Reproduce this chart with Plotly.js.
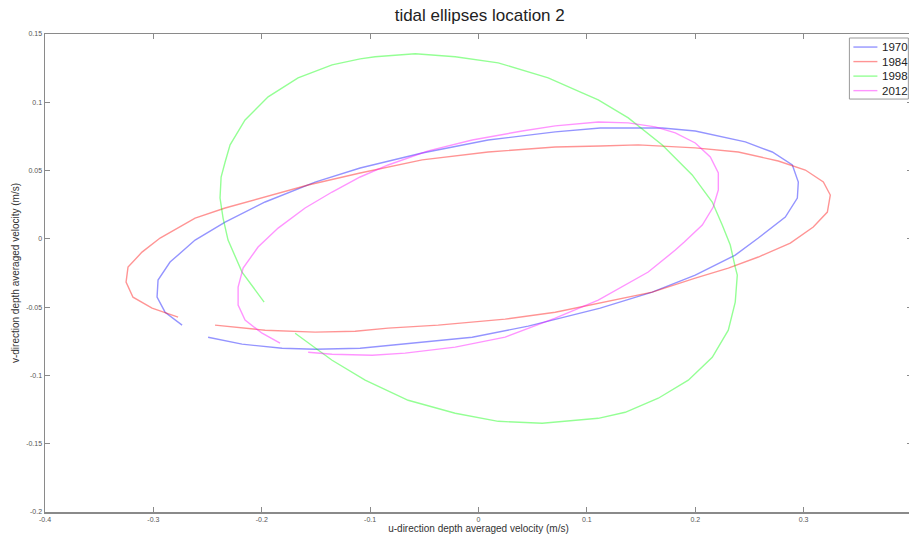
<!DOCTYPE html>
<html>
<head>
<meta charset="utf-8">
<script src="https://cdn.plot.ly/plotly-3.0.1.min.js"></script>
<style>
  html, body { margin: 0; padding: 0; overflow: hidden; background: #fff; }
  #chart { width: 912px; height: 537px; }
</style>
</head>
<body>
<div id="chart"></div>
<script>
// Depth-averaged tidal velocity ellipses (u, v in m/s) for four survey years
const years = ['1970', '1984', '1998', '2012'];

const u1970 = [-0.2735, -0.2892, -0.2966, -0.2957, -0.2846, -0.2615, -0.2338, -0.1969, -0.1508, -0.1092,
  -0.0520, 0.0089, 0.0708, 0.1123, 0.1696, 0.2000, 0.2462, 0.2711, 0.2896, 0.2951,
  0.2942, 0.2831, 0.2582, 0.2369, 0.2000, 0.1603, 0.1123, 0.0459, -0.0058, -0.0612,
  -0.1092, -0.1508, -0.1812, -0.2182, -0.2495];
const v1970 = [-0.0632, -0.0537, -0.0427, -0.0302, -0.0170, -0.0009, 0.0123, 0.0270, 0.0416, 0.0519,
  0.0629, 0.0724, 0.0783, 0.0812, 0.0812, 0.0790, 0.0710, 0.0636, 0.0541, 0.0416,
  0.0299, 0.0160, 0.0006, -0.0119, -0.0265, -0.0390, -0.0507, -0.0639, -0.0720, -0.0764,
  -0.0801, -0.0808, -0.0801, -0.0771, -0.0720];

const u1984 = [-0.2772, -0.3012, -0.3188, -0.3252, -0.3234, -0.3105, -0.2938, -0.2615, -0.2338, -0.1969,
  -0.1572, -0.1092, -0.0520, 0.0089, 0.0708, 0.1123, 0.1474, 0.2000, 0.2397, 0.2766,
  0.3016, 0.3182, 0.3246, 0.3219, 0.3089, 0.2877, 0.2582, 0.2305, 0.2000, 0.1603,
  0.1123, 0.0708, 0.0246, -0.0372, -0.0834, -0.1138, -0.1508, -0.1969, -0.2431];
const v1984 = [-0.0573, -0.0507, -0.0427, -0.0317, -0.0207, -0.0097, 0.0006, 0.0152, 0.0226, 0.0306,
  0.0394, 0.0482, 0.0578, 0.0636, 0.0673, 0.0680, 0.0688, 0.0666, 0.0636, 0.0570,
  0.0504, 0.0416, 0.0321, 0.0196, 0.0087, -0.0031, -0.0133, -0.0214, -0.0287, -0.0390,
  -0.0471, -0.0537, -0.0588, -0.0632, -0.0654, -0.0676, -0.0683, -0.0669, -0.0632];

const u1998 = [-0.1978, -0.2182, -0.2311, -0.2357, -0.2385, -0.2375, -0.2338, -0.2292, -0.2154, -0.1941,
  -0.1665, -0.1351, -0.1092, -0.0954, -0.0584, -0.0215, 0.0182, 0.0643, 0.0957, 0.1105,
  0.1382, 0.1696, 0.1972, 0.2157, 0.2249, 0.2323, 0.2369, 0.2388, 0.2369, 0.2305,
  0.2157, 0.1936, 0.1659, 0.1354, 0.1105, 0.0588, 0.0182, -0.0215, -0.0649, -0.1046,
  -0.1351, -0.1692];
const v1998 = [-0.0463, -0.0243, -0.0009, 0.0152, 0.0299, 0.0453, 0.0563, 0.0688, 0.0871, 0.1040,
  0.1179, 0.1274, 0.1318, 0.1333, 0.1355, 0.1333, 0.1289, 0.1179, 0.1069, 0.1018,
  0.0886, 0.0688, 0.0468, 0.0270, 0.0101, -0.0045, -0.0207, -0.0265, -0.0463, -0.0669,
  -0.0867, -0.1035, -0.1167, -0.1270, -0.1314, -0.1350, -0.1336, -0.1277, -0.1182, -0.1035,
  -0.0889, -0.0691];

const u2012 = [-0.1831, -0.1997, -0.2154, -0.2218, -0.2218, -0.2172, -0.2034, -0.1849, -0.1600, -0.1351,
  -0.1092, -0.0834, -0.0464, -0.0058, 0.0403, 0.0708, 0.1105, 0.1382, 0.1631, 0.1816,
  0.2000, 0.2139, 0.2213, 0.2213, 0.2166, 0.2065, 0.1899, 0.1816, 0.1566, 0.1326,
  0.1105, 0.0708, 0.0246, -0.0215, -0.0677, -0.0981, -0.1351, -0.1572];
const v2012 = [-0.0764, -0.0691, -0.0595, -0.0485, -0.0353, -0.0214, -0.0060, 0.0079, 0.0226, 0.0343,
  0.0453, 0.0541, 0.0644, 0.0724, 0.0790, 0.0827, 0.0856, 0.0849, 0.0820, 0.0776,
  0.0702, 0.0600, 0.0482, 0.0358, 0.0233, 0.0101, -0.0023, -0.0082, -0.0243, -0.0353,
  -0.0449, -0.0581, -0.0720, -0.0793, -0.0837, -0.0852, -0.0845, -0.0830];

const xTicks = [-0.4, -0.3, -0.2, -0.1, 0, 0.1, 0.2, 0.3, 0.4];
const xTickText = ['-0.4', '-0.3', '-0.2', '-0.1', '0', '0.1', '0.2', '0.3', '0.4'];
const yTicks = [-0.2, -0.15, -0.1, -0.05, 0, 0.05, 0.1, 0.15];
const yTickText = ['-0.2', '-0.15', '-0.1', '-0.05', '0', '0.05', '0.1', '0.15'];

const lineColors = ['rgba(0,0,255,0.42)', 'rgba(255,0,0,0.42)', 'rgba(0,255,0,0.42)', 'rgba(255,0,255,0.42)'];
const uSeries = [u1970, u1984, u1998, u2012];
const vSeries = [v1970, v1984, v1998, v2012];
const FONT = 'Liberation Sans, Arial, sans-serif';

const traces = years.map((yr, i) => ({
  type: 'scatter',
  mode: 'lines',
  name: yr,
  x: uSeries[i],
  y: vSeries[i],
  line: { color: lineColors[i], width: 1.4 },
  hoverinfo: 'skip'
}));

// Compact boxed key in the top-right corner (paper coordinates)
const key = { x0: 0.9278, x1: 0.9958, y0: 0.8639, y1: 0.9916,
  lineX0: 0.9324, lineX1: 0.9601, textX: 0.9630, firstY: 0.9727, step: 0.0304 };
const shapes = [{
  type: 'rect', xref: 'paper', yref: 'paper',
  x0: key.x0, x1: key.x1, y0: key.y0, y1: key.y1,
  line: { color: '#9a9a9a', width: 1 }, fillcolor: '#fff', layer: 'above'
}];
const annotations = [];
years.forEach((yr, i) => {
  const yy = key.firstY - i * key.step;
  shapes.push({
    type: 'line', xref: 'paper', yref: 'paper',
    x0: key.lineX0, x1: key.lineX1, y0: yy, y1: yy,
    line: { color: lineColors[i], width: 1.4 }, layer: 'above'
  });
  annotations.push({
    xref: 'paper', yref: 'paper', x: key.textX, y: yy,
    xanchor: 'left', yanchor: 'middle', showarrow: false,
    text: yr, font: { family: FONT, size: 11.5, color: '#222' }
  });
});

const axisCommon = {
  showgrid: false,
  zeroline: false,
  showline: true,
  mirror: 'ticks',
  linecolor: '#8a8a8a',
  linewidth: 1.5,
  ticks: 'inside',
  ticklen: 5,
  tickwidth: 1,
  tickcolor: '#8a8a8a',
  tickmode: 'array',
  tickfont: { family: FONT, size: 7, color: '#555' },
  automargin: false
};

const layout = {
  width: 912,
  height: 537,
  margin: { l: 45, r: 0, t: 34, b: 25, pad: 0 },
  paper_bgcolor: '#fff',
  plot_bgcolor: '#fff',
  showlegend: false,
  shapes: shapes,
  annotations: annotations,
  title: {
    text: 'tidal ellipses location 2',
    font: { family: FONT, size: 17, color: '#222' },
    x: 0.526, xanchor: 'center',
    y: 0.972, yanchor: 'middle'
  },
  xaxis: Object.assign({}, axisCommon, {
    range: [-0.4, 0.4],
    tickvals: xTicks,
    ticktext: xTickText,
    title: {
      text: 'u-direction depth averaged velocity (m/s)',
      font: { family: FONT, size: 10, color: '#333' },
      standoff: 2
    }
  }),
  yaxis: Object.assign({}, axisCommon, {
    range: [-0.2, 0.15],
    tickvals: yTicks,
    ticktext: yTickText,
    title: {
      text: 'v-direction depth averaged velocity (m/s)',
      font: { family: FONT, size: 10, color: '#333' },
      standoff: 4
    }
  })
};

Plotly.newPlot('chart', traces, layout, { displayModeBar: false, staticPlot: true });
</script>
</body>
</html>
